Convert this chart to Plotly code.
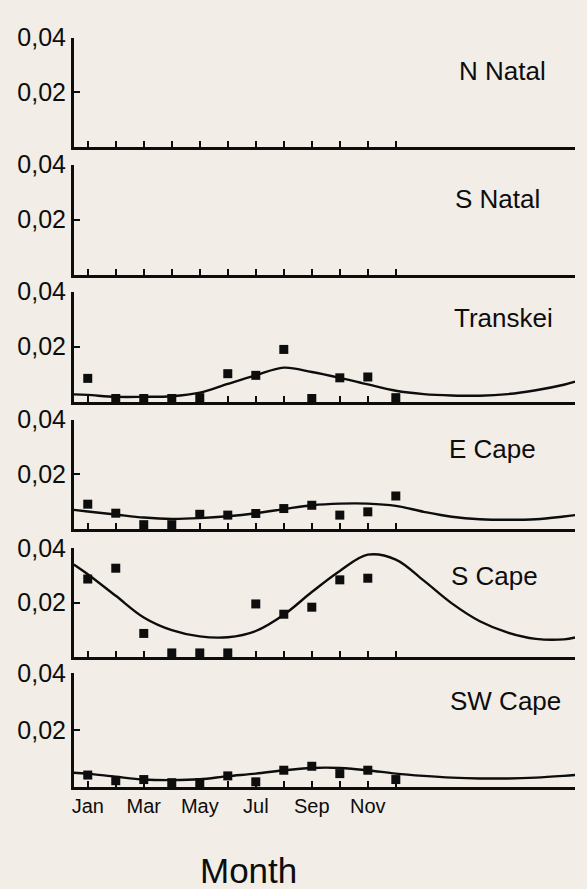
import plotly.graph_objects as go

W, H = 587, 889

months = [1, 2, 3, 4, 5, 6, 7, 8, 9, 10, 11, 12]
month_text = ["Jan", "", "Mar", "", "May", "", "Jul", "", "Sep", "", "Nov", ""]
ytick_vals = [0.02, 0.04]
ytick_text = ["0,02", "0,04"]

regions = ["N Natal", "S Natal", "Transkei", "E Cape", "S Cape", "SW Cape"]

curve_x = [0.5, 1, 2, 3, 4, 5, 6, 7, 8, 9, 10, 11, 12, 13, 14, 15, 16, 17, 18, 18.4]

# observed monthly values (None = no observation)
transkei_obs = [0.0085, 0.0012, 0.0012, 0.0012, 0.0015, 0.0102, 0.0096, 0.019, 0.0012, 0.0087, 0.009, 0.0015]
ecape_obs = [0.009, 0.0057, 0.0015, 0.0015, 0.0053, 0.005, 0.0056, 0.0074, 0.0086, 0.005, 0.0062, 0.012]
scape_obs = [0.0287, 0.0327, 0.0086, 0.0014, 0.0014, 0.0014, 0.0195, 0.0157, 0.0183, 0.0284, 0.029, None]
swcape_obs = [0.0041, 0.0021, 0.0025, 0.0014, 0.0014, 0.0038, 0.0017, 0.0058, 0.0072, 0.0046, 0.0058, 0.0025]
empty_obs = [None] * 12

# fitted seasonal curves
transkei_fit = [0.0027, 0.0025, 0.0018, 0.0018, 0.0020, 0.0033, 0.0065, 0.0096, 0.0124, 0.0108,
                0.0087, 0.0063, 0.0040, 0.0028, 0.0023, 0.0022, 0.0028, 0.0042, 0.0062, 0.0073]
ecape_fit = [0.0069, 0.0063, 0.0052, 0.0041, 0.0036, 0.0039, 0.0046, 0.0057, 0.0072, 0.0086,
             0.0092, 0.0092, 0.0084, 0.0062, 0.0044, 0.0035, 0.0033, 0.0035, 0.0045, 0.0050]
scape_fit = [0.0341, 0.0305, 0.0225, 0.0145, 0.0098, 0.0075, 0.0072, 0.0095, 0.0155, 0.0239,
             0.0317, 0.0377, 0.0359, 0.0281, 0.0197, 0.0131, 0.0089, 0.0066, 0.0064, 0.0071]
swcape_fit = [0.0049, 0.0046, 0.0035, 0.0025, 0.0023, 0.0026, 0.0037, 0.0046, 0.0058, 0.0066,
              0.0066, 0.0058, 0.0046, 0.0038, 0.0032, 0.0029, 0.0029, 0.0032, 0.0038, 0.0041]

obs = [empty_obs, empty_obs, transkei_obs, ecape_obs, scape_obs, swcape_obs]
fits = [None, None, transkei_fit, ecape_fit, scape_fit, swcape_fit]

# panel pixel extents (top, bottom)
panels_px = [(24, 135), (153, 265), (282, 394), (412, 523), (543, 653), (670, 785)]
label_pos = [(502, 58), (497, 188), (503, 309), (492, 442), (494, 571), (505, 698)]

FONT = "Liberation Sans, Arial, Helvetica, sans-serif"
BG = "#f2eee7"
INK = "#0d0d0d"

fig = go.Figure()
layout = dict(
    width=W, height=H,
    margin=dict(l=0, r=0, t=0, b=0),
    paper_bgcolor=BG, plot_bgcolor=BG,
    showlegend=False,
    font=dict(family=FONT, color=INK),
)
annotations = []

for i in range(6):
    n = i + 1
    xa = "x" if n == 1 else f"x{n}"
    ya = "y" if n == 1 else f"y{n}"
    top, bot = panels_px[i]
    layout["xaxis" if n == 1 else f"xaxis{n}"] = dict(
        domain=[72 / W, 575 / W], range=[0.5, 18.4],
        anchor=ya, showline=True, linecolor=INK, linewidth=2.5,
        showgrid=False, zeroline=False,
        ticks="inside", tickvals=months, ticktext=month_text,
        ticklen=6, tickwidth=2, tickcolor=INK,
        showticklabels=(n == 6),
        tickfont=dict(size=20, family=FONT, color=INK),
    )
    layout["yaxis" if n == 1 else f"yaxis{n}"] = dict(
        domain=[1 - bot / H, 1 - top / H], range=[0, 0.04],
        anchor=xa, showline=True, linecolor=INK, linewidth=2.5,
        showgrid=False, zeroline=False,
        ticks="inside", tickvals=ytick_vals, ticktext=ytick_text,
        ticklen=6, tickwidth=2, tickcolor=INK,
        tickfont=dict(size=25, family=FONT, color=INK),
    )
    if fits[i] is not None:
        fig.add_trace(go.Scatter(
            x=curve_x, y=fits[i], mode="lines",
            line=dict(color=INK, width=2.4, shape="spline", smoothing=1.0),
            xaxis=xa, yaxis=ya, cliponaxis=False,
        ))
    fig.add_trace(go.Scatter(
        x=months, y=obs[i], mode="markers",
        marker=dict(symbol="square", size=9, color=INK),
        xaxis=xa, yaxis=ya, cliponaxis=False,
    ))
    lx, ly = label_pos[i]
    annotations.append(dict(
        text=regions[i], x=lx / W, y=1 - ly / H, xref="paper", yref="paper",
        xanchor="center", yanchor="middle", showarrow=False,
        font=dict(size=26, family=FONT, color=INK),
    ))

annotations.append(dict(
    text="Month", x=247 / W, y=1 - 870 / H, xref="paper", yref="paper",
    xanchor="center", yanchor="middle", showarrow=False,
    font=dict(size=35, family=FONT, color=INK),
))
layout["annotations"] = annotations
fig.update_layout(**layout)

fig.write_html("out.html")
